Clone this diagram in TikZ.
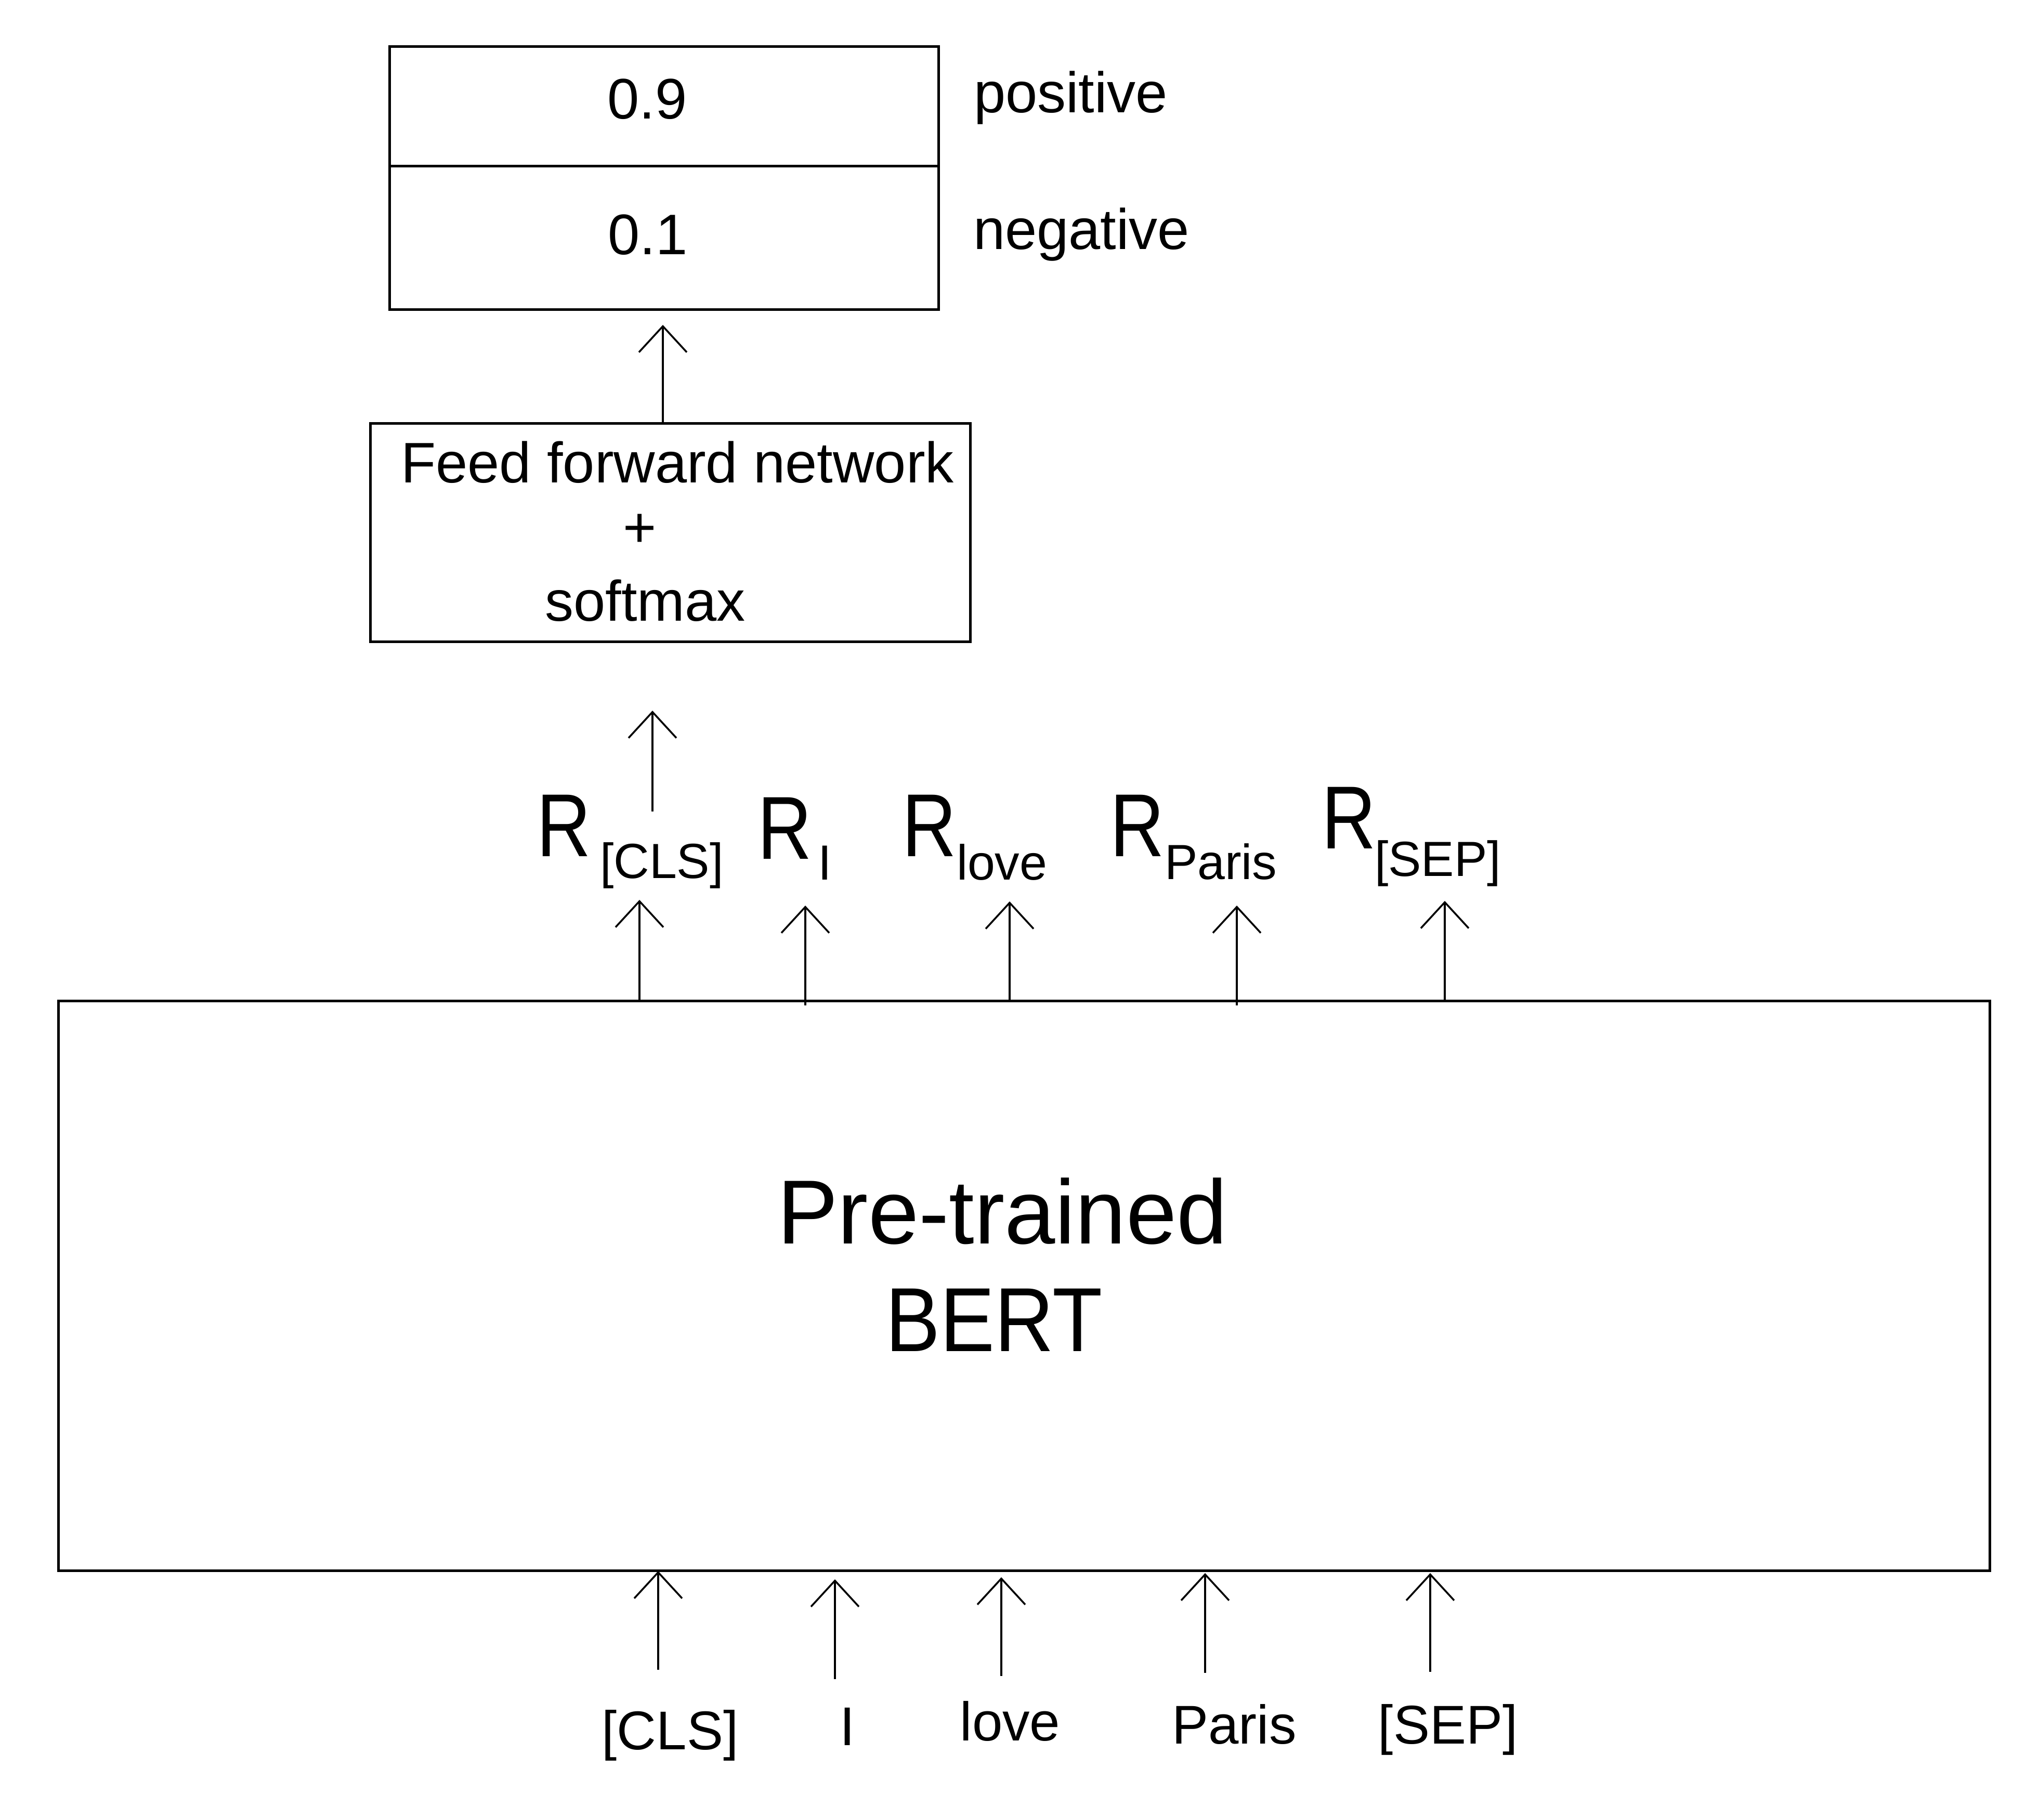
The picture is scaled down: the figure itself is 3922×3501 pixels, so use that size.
\documentclass[tikz,border=0pt]{standalone}
\usepackage{graphicx}
\usepackage{fontspec}
\setmainfont{Liberation Sans}
\usetikzlibrary{arrows.meta}
\newcommand{\narrowR}{\scalebox{0.84}[1]{R}}
\begin{document}
\begin{tikzpicture}[x=0.1pt,y=-0.1pt,
  box/.style={draw,line width=0.5pt,inner sep=0pt},
  arr/.style={line width=0.35pt,-{Straight Barb[length=5pt,width=9.2pt]}},
  txt/.style={inner sep=0pt,anchor=base,font=\fontsize{11}{13}\selectfont},
  lbl/.style={inner sep=0pt,anchor=base west,font=\fontsize{11}{13}\selectfont},
  tok/.style={inner sep=0pt,anchor=base,font=\fontsize{10.5}{12}\selectfont},
  bigR/.style={inner sep=0pt,anchor=base west,font=\fontsize{17.2}{20}\selectfont},
  subR/.style={inner sep=0pt,anchor=base west,font=\fontsize{9.5}{11}\selectfont},
  bert/.style={inner sep=0pt,anchor=base,font=\fontsize{17.5}{21}\selectfont}]
\useasboundingbox (0,0) rectangle (3922,3501);

% output box
\node[box,minimum width=105.7pt,minimum height=23pt] (pos) at (1277.5,205) {};
\node[box,minimum width=105.7pt,minimum height=27.6pt] (neg) at (1277.5,458) {};
\node[txt] (p09) at (1245,229) {0.9};
\node[txt] (p01) at (1246,490) {0.1};
\node[lbl] (lpos) at (1871,217) {positive};
\node[lbl] (lneg) at (1870,480) {negative};

% feed forward box
\node[box,minimum width=115.5pt,minimum height=42pt] (ffn) at (1289.5,1025) {};
\node[txt] (f1) at (1303,929) {Feed forward network};
\node[txt] (f2) at (1231,1053) {+};
\node[txt] (f3) at (1241,1195) {softmax};

% BERT box
\node[box,minimum width=371.6pt,minimum height=109.7pt] (bertbox) at (1970,2473.5) {};
\node[bert] (b1) at (1928,2393) {Pre-trained};
\node[bert] (b2) at (1912,2600) {\scalebox{0.9}[1]{BERT}};

% R labels
\node[bigR] (rcls) at (1030,1648) {\narrowR};
\node[subR] (rclss) at (1152,1690) {[CLS]};
\node[bigR] (ri) at (1455,1653) {\narrowR};
\node[subR] (ris) at (1571,1693) {I};
\node[bigR] (rlove) at (1733,1648) {\narrowR};
\node[subR] (rloves) at (1838,1693) {love};
\node[bigR] (rparis) at (2133,1648) {\narrowR};
\node[subR] (rpariss) at (2238,1692) {Paris};
\node[bigR] (rsep) at (2540,1633) {\narrowR};
\node[subR] (rseps) at (2642,1686) {[SEP]};

% tokens
\node[tok] (tcls) at (1289,3366) {[CLS]};
\node[tok] (ti) at (1630,3357) {I};
\node[tok] (tlove) at (1943,3349) {love};
\node[tok] (tparis) at (2374,3355) {Paris};
\node[tok] (tsep) at (2785,3355) {[SEP]};

% arrow end points
\coordinate (a0s) at (1275,816);  \coordinate (a0e) at (1275,625);
\coordinate (a1s) at (1255,1561); \coordinate (a1e) at (1255,1367);
\coordinate (u1s) at (1230,1926); \coordinate (u1e) at (1230,1731);
\coordinate (u2s) at (1549,1934); \coordinate (u2e) at (1549,1742);
\coordinate (u3s) at (1942,1926); \coordinate (u3e) at (1942,1734);
\coordinate (u4s) at (2379,1934); \coordinate (u4e) at (2379,1742);
\coordinate (u5s) at (2779,1926); \coordinate (u5e) at (2779,1733);
\coordinate (d1s) at (1266,3212); \coordinate (d1e) at (1266,3022);
\coordinate (d2s) at (1606,3230); \coordinate (d2e) at (1606,3038);
\coordinate (d3s) at (1926,3224); \coordinate (d3e) at (1926,3034);
\coordinate (d4s) at (2318,3218); \coordinate (d4e) at (2318,3026);
\coordinate (d5s) at (2751,3216); \coordinate (d5e) at (2751,3026);

\draw[arr] (a0s) -- (a0e);
\draw[arr] (a1s) -- (a1e);
\foreach \i in {1,...,5} {
  \draw[arr] (u\i s) -- (u\i e);
  \draw[arr] (d\i s) -- (d\i e);
}
\end{tikzpicture}
\end{document}
